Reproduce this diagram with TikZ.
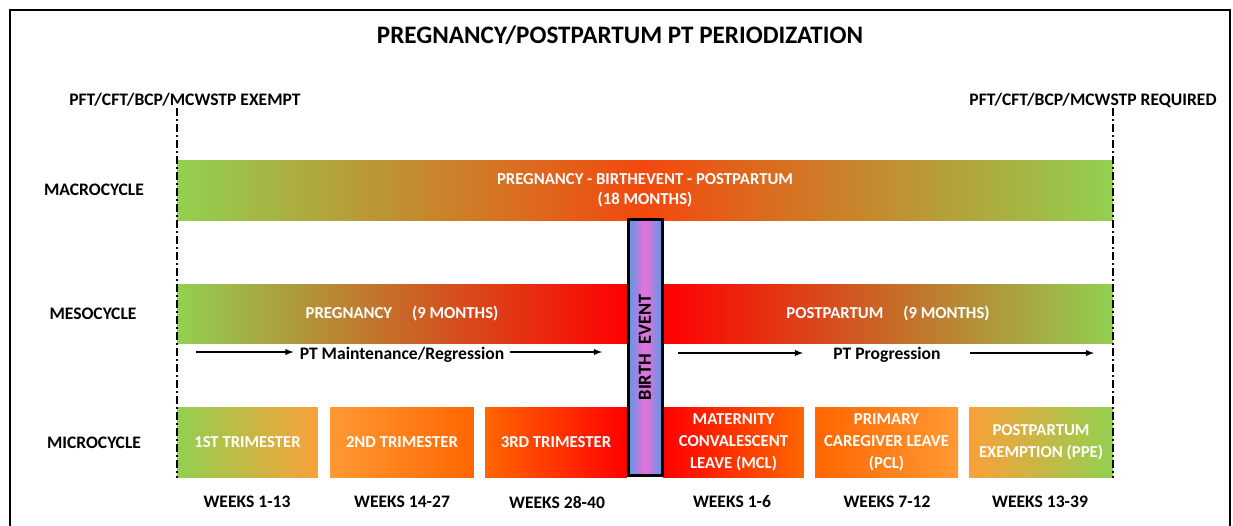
\documentclass[tikz,border=0pt]{standalone}
\usepackage{fontspec}
\setmainfont{Carlito}
\usetikzlibrary{arrows}
\definecolor{pgreen}{RGB}{146,208,80}
\definecolor{porange}{RGB}{250,160,58}
\definecolor{lorange}{RGB}{255,153,51}
\definecolor{dorange}{RGB}{255,102,0}
\definecolor{pred}{RGB}{255,0,0}
\definecolor{macmid}{RGB}{244,72,14}
\definecolor{bblue}{RGB}{85,155,230}
\definecolor{bpink}{RGB}{238,110,218}

\begin{document}
\begin{tikzpicture}[x=0.02cm,y=-0.02cm,
        head/.style={font=\fontsize{14.3}{16}\selectfont\bfseries},
        note/.style={font=\fontsize{10}{12}\selectfont\bfseries},
        bar/.style={text=white,inner sep=0pt,align=center,font=\fontsize{9.5}{11.3}\selectfont\bfseries},
        micro/.style={bar,minimum height=1.4cm,font=\fontsize{9.5}{12.5}\selectfont\bfseries},
        track/.style={-latex,line width=0.6pt},
        limit/.style={line width=1.2pt,dash pattern=on 4.5pt off 1.7pt on 1.2pt off 1.7pt}]
            \useasboundingbox (0,0) rectangle (1233,525);
            \draw[line width=1.5pt] (10,530)--(10,10)--(1230,10)--(1230,530);

            \node[head] (title) at (620,35) {PREGNANCY/POSTPARTUM PT PERIODIZATION};
            \node[note] (exempt) at (185,100) {PFT/CFT/BCP/MCWSTP EXEMPT};
            \node[note] (required) at (1093,100) {PFT/CFT/BCP/MCWSTP REQUIRED};

            \node[note] (macrolbl) at (94,190) {MACROCYCLE};
            \node[note] (mesolbl) at (93,314) {MESOCYCLE};
            \node[note] (microlbl) at (94,443) {MICROCYCLE};

            \node[bar,minimum width=18.72cm,minimum height=1.2cm,left color=pgreen,right color=pgreen,middle color=macmid] (macro) at (645,190) {PREGNANCY - BIRTHEVENT - POSTPARTUM\\(18 MONTHS)};
            \node[bar,minimum width=9cm,minimum height=1.18cm,left color=pgreen,right color=pred] (pregbar) at (402,313.5) {PREGNANCY\hspace{1.2em}(9 MONTHS)};
            \node[bar,minimum width=9cm,minimum height=1.18cm,left color=pred,right color=pgreen] (postbar) at (888,313.5) {POSTPARTUM\hspace{1.2em}(9 MONTHS)};

            \node[micro,minimum width=2.82cm,left color=pgreen,right color=porange] (tri1) at (247.5,442) {1ST TRIMESTER};
            \node[micro,minimum width=2.88cm,left color=lorange,right color=dorange] (tri2) at (402,442) {2ND TRIMESTER};
            \node[micro,minimum width=2.84cm,left color=dorange,right color=pred] (tri3) at (556,442) {3RD TRIMESTER};
            \node[micro,minimum width=2.82cm,left color=pred,right color=dorange] (mcl) at (733.5,442) {MATERNITY\\CONVALESCENT\\LEAVE (MCL)};
            \node[micro,minimum width=2.86cm,left color=dorange,right color=lorange] (pcl) at (886.5,442) {PRIMARY\\CAREGIVER LEAVE\\(PCL)};
            \node[micro,minimum width=2.88cm,left color=porange,right color=pgreen] (ppe) at (1041,442) {POSTPARTUM\\EXEMPTION (PPE)};

            \node[note] (wk1) at (247,502) {WEEKS 1-13};
            \node[note] (wk2) at (402,502) {WEEKS 14-27};
            \node[note] (wk3) at (557,502) {WEEKS 28-40};
            \node[note] (wk4) at (732,502) {WEEKS 1-6};
            \node[note] (wk5) at (887,502) {WEEKS 7-12};
            \node[note] (wk6) at (1040,502) {WEEKS 13-39};

            \node[draw,line width=1.7pt,minimum width=0.68cm,minimum height=5.14cm,left color=bblue,right color=bblue,middle color=bpink,
                label={[rotate=90,inner sep=0pt,font=\fontsize{10.5}{12}\selectfont\bfseries]center:BIRTH\hspace{0.5em}EVENT}] (birth) at (645,347.5) {};

            \node[note] (maint) at (402,355) {PT Maintenance/Regression};
            \coordinate (m1) at (196,352);
            \coordinate (m2) at (602,352);
            \draw[track] (m1)--(m1 -| maint.west);
            \draw[track] (m2 -| maint.east)--(m2);
            \node[note] (prog) at (887,355) {PT Progression};
            \coordinate (p1) at (678,353);
            \coordinate (p2) at (803,353);
            \coordinate (p3) at (970,353);
            \coordinate (p4) at (1094,353);
            \draw[track] (p1)--(p2);
            \draw[track] (p3)--(p4);

            \coordinate (lt) at (177,108);
            \coordinate (lb) at (177,478);
            \coordinate (rt) at (1113,108);
            \coordinate (rb) at (1113,478);
            \draw[limit] (lt)--(lb);
            \draw[limit] (rt)--(rb);
        \end{tikzpicture}
\end{document}
